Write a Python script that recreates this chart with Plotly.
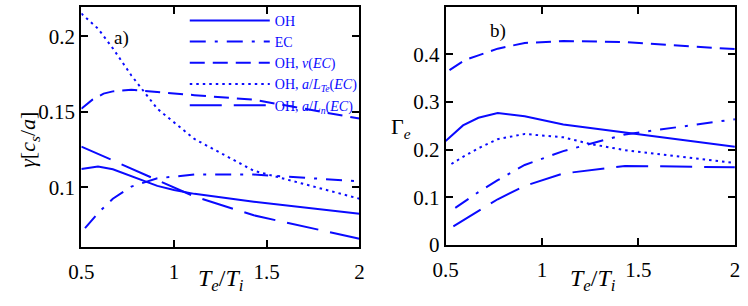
import plotly.graph_objects as go

# ---------------- data ----------------
# panel a) growth rate gamma [c_s/a]
xa_oh = [0.5, 0.59, 0.67, 0.77, 0.91, 1.0, 1.11, 1.43, 2.0]
ga_oh = [0.1122, 0.1138, 0.112, 0.1075, 0.101, 0.0982, 0.0957, 0.0905, 0.0825]
xa_ec = [0.52, 0.59, 0.67, 0.77, 0.91, 1.11, 1.43, 2.0]
ga_ec = [0.073, 0.083, 0.0925, 0.1005, 0.106, 0.1085, 0.1085, 0.104]
xa_nu = [0.5, 0.56, 0.62, 0.67, 0.77, 0.91, 1.11, 1.43, 2.0]
ga_nu = [0.152, 0.158, 0.162, 0.1635, 0.1645, 0.163, 0.161, 0.158, 0.1455]
xa_lte = [0.5, 0.59, 0.67, 0.77, 0.91, 1.11, 1.43, 2.0]
ga_lte = [0.215, 0.205, 0.192, 0.174, 0.152, 0.132, 0.111, 0.0925]
xa_ln = [0.5, 0.77, 0.91, 1.11, 1.43, 2.0]
ga_ln = [0.127, 0.1125, 0.1045, 0.094, 0.0815, 0.066]

# panel b) particle flux Gamma_e
xb_oh = [0.5, 0.59, 0.67, 0.77, 0.91, 1.11, 1.43, 2.0]
fb_oh = [0.218, 0.251, 0.267, 0.277, 0.270, 0.253, 0.236, 0.206]
xb_ec = [0.55, 0.67, 0.77, 0.91, 1.11, 1.43, 2.0]
fb_ec = [0.078, 0.111, 0.136, 0.168, 0.197, 0.232, 0.264]
xb_nu = [0.52, 0.6, 0.67, 0.77, 0.91, 1.11, 1.43, 2.0]
fb_nu = [0.367, 0.388, 0.398, 0.412, 0.424, 0.428, 0.426, 0.411]
xb_lte = [0.53, 0.59, 0.67, 0.77, 0.91, 1.0, 1.11, 1.25, 1.43, 2.0]
fb_lte = [0.170, 0.185, 0.203, 0.222, 0.233, 0.2305, 0.226, 0.212, 0.199, 0.172]
xb_ln = [0.54, 0.77, 0.91, 1.11, 1.43, 2.0]
fb_ln = [0.039, 0.096, 0.124, 0.150, 0.166, 0.163]

names = ["OH", "EC", "OH, <i>ν</i>(<i>EC</i>)",
         "OH, <i>a</i>/<i>L</i><sub><i>Te</i></sub>(<i>EC</i>)",
         "OH, <i>a</i>/<i>L</i><sub><i>n</i></sub>(<i>EC</i>)"]

x_ticks = [0.5, 1, 1.5, 2]
x_ticklabels = ["0.5", "1", "1.5", "2"]
ya_ticks = [0.1, 0.15, 0.2]
ya_ticklabels = ["0.1", "0.15", "0.2"]
yb_ticks = [0, 0.1, 0.2, 0.3, 0.4, 0.5]
yb_ticklabels = ["0", "0.1", "0.2", "0.3", "0.4", "0.5"]

# ---------------- styling ----------------
BLUE = "#0a0aff"
FONT = "Liberation Serif"
dashes = ["solid", "16px,9px,3px,9px", "15px,8px", "2.5px,4px", "32px,12px"]

fig = go.Figure()
panel_a = [(xa_oh, ga_oh), (xa_ec, ga_ec), (xa_nu, ga_nu), (xa_lte, ga_lte), (xa_ln, ga_ln)]
panel_b = [(xb_oh, fb_oh), (xb_ec, fb_ec), (xb_nu, fb_nu), (xb_lte, fb_lte), (xb_ln, fb_ln)]

for i, (xs, ys) in enumerate(panel_a):
    fig.add_trace(go.Scatter(x=xs, y=ys, mode="lines", name=names[i],
                             line=dict(color=BLUE, width=2, dash=dashes[i]),
                             xaxis="x", yaxis="y", showlegend=True))
for i, (xs, ys) in enumerate(panel_b):
    fig.add_trace(go.Scatter(x=xs, y=ys, mode="lines", name=names[i],
                             line=dict(color=BLUE, width=2, dash=dashes[i]),
                             xaxis="x2", yaxis="y2", showlegend=False))

W, H = 748, 306
axis_common = dict(showline=True, linewidth=2, linecolor="black", mirror="ticks",
                   ticks="inside", ticklen=7, tickwidth=1.5, tickcolor="black",
                   showgrid=False, zeroline=False,
                   tickfont=dict(family=FONT, size=21, color="black"))

fig.update_layout(
    width=W, height=H,
    margin=dict(l=0, r=0, t=0, b=0),
    paper_bgcolor="white", plot_bgcolor="white",
    xaxis=dict(domain=[70 / W, 355 / W], range=[0.5, 2], tickvals=x_ticks,
               ticktext=x_ticklabels, anchor="y", ticklabelstandoff=5, **axis_common),
    yaxis=dict(domain=[1 - 257 / H, 1 - 7 / H], range=[0.0606, 0.2195],
               tickvals=ya_ticks, ticktext=ya_ticklabels, anchor="x", **axis_common),
    xaxis2=dict(domain=[443.3 / W, 739.7 / W], range=[0.5, 2], tickvals=x_ticks,
                ticktext=x_ticklabels, anchor="y2", ticklabelstandoff=5, **axis_common),
    yaxis2=dict(domain=[1 - 255 / H, 1 - 7 / H], range=[0, 0.5],
                tickvals=yb_ticks, ticktext=yb_ticklabels, anchor="x2", **axis_common),
    legend=dict(x=176 / W, xanchor="left", y=1 - 5 / H, yanchor="top",
                bgcolor="rgba(0,0,0,0)", itemwidth=80, tracegroupgap=0,
                font=dict(family=FONT, size=14, color=BLUE)),
    showlegend=True,
)

ann_font = dict(family=FONT, size=22, color="black")
title_font = dict(family=FONT, size=24, color="black")
annotations = [
    dict(text="<i>γ</i>[<i>c</i><sub><i>s</i></sub>/<i>a</i>]", x=17 / W, y=1 - 146 / H,
         textangle=-90, font=ann_font, yanchor="middle"),
    dict(text="<i>T</i><sub><i>e</i></sub>/<i>T</i><sub><i>i</i></sub>", x=213 / W, y=1 - 274 / H,
         font=title_font, yanchor="top"),
    dict(text="<i>T</i><sub><i>e</i></sub>/<i>T</i><sub><i>i</i></sub>", x=594 / W, y=1 - 274 / H,
         font=title_font, yanchor="top"),
    dict(text="Γ<sub><i>e</i></sub>", x=398 / W, y=1 - 133 / H, font=ann_font, yanchor="middle"),
    dict(text="a)", x=111 / W, y=1 - 40 / H, font=dict(family=FONT, size=19, color="black"),
         yanchor="middle"),
    dict(text="b)", x=497 / W, y=1 - 32 / H, font=dict(family=FONT, size=19, color="black"),
         yanchor="middle"),
]
for a in annotations:
    a.update(xref="paper", yref="paper", showarrow=False, xanchor="center")
fig.update_layout(annotations=annotations)

fig.write_html("out.html", config={"displayModeBar": False},
               post_script="document.body.style.margin='0px';")
